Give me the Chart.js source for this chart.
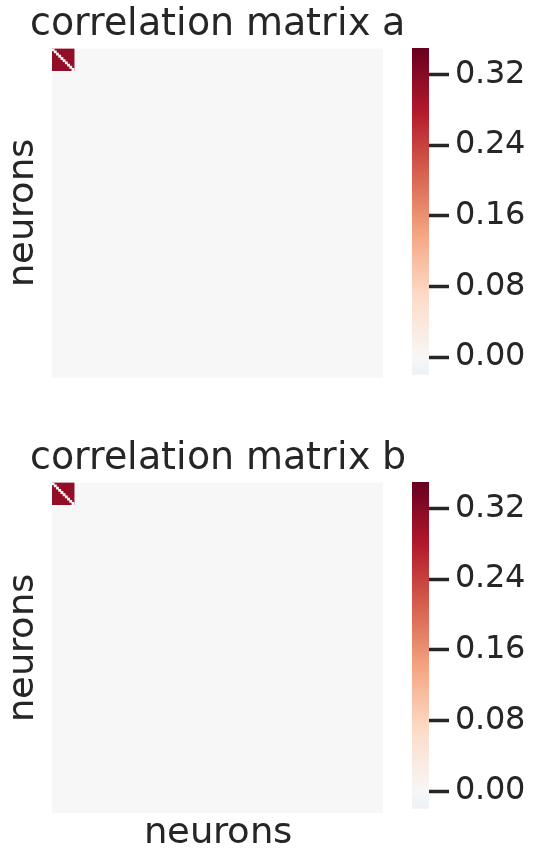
<!DOCTYPE html>
<html>
<head>
<meta charset="utf-8">
<script src="https://cdn.jsdelivr.net/npm/chart.js@4.4.1/dist/chart.umd.min.js"></script>
<style>
  @font-face { font-family: 'DejaVuBook'; src: local('DejaVu Sans'), local('DejaVuSans'); }
  html, body { margin: 0; padding: 0; background: #ffffff; }
  #page { position: relative; width: 548px; height: 856px; overflow: hidden; }
  canvas { position: absolute; }
</style>
</head>
<body>
<div id="page">
  <canvas id="heatA" width="548" height="380" style="left:0;top:0"></canvas>
  <canvas id="barA" width="148" height="400" style="left:400px;top:0"></canvas>
  <canvas id="heatB" width="548" height="422" style="left:0;top:434px"></canvas>
  <canvas id="barB" width="148" height="400" style="left:400px;top:434px"></canvas>
</div>
<script>
// ---- data ----
const neuronCount = 150;                       // neurons per matrix
const assemblyNeurons = [0, 10];               // first neurons forming a correlated group
const assemblyCorrelation = [0.31, 0.31];      // off-diagonal value inside the group (a, b)
const selfCorrelation = [0.0, 0.0];            // diagonal inside the group (a, b)
const backgroundCorrelation = [0.0, 0.0];      // everything else (a, b)
const colorbarRange = [-0.02, 0.35];
const colorbarTicks = [0.00, 0.08, 0.16, 0.24, 0.32];
const panelTitles = ['correlation matrix a', 'correlation matrix b'];
const axisLabel = 'neurons';

// ---- colour map (diverging red/blue, centred on zero) ----
const RDBU_R = ['#053061', '#2166ac', '#4393c3', '#92c5de', '#d1e5f0', '#f7f7f7',
                '#fddbc7', '#f4a582', '#d6604d', '#b2182b', '#67001f'];
const span = Math.max(Math.abs(colorbarRange[0]), Math.abs(colorbarRange[1]));
function hexToRgb(h) {
  return [parseInt(h.slice(1, 3), 16), parseInt(h.slice(3, 5), 16), parseInt(h.slice(5, 7), 16)];
}
function colorFor(v) {
  let t = 0.5 + v / (2 * span);
  t = Math.min(1, Math.max(0, t));
  const pos = t * (RDBU_R.length - 1);
  const i = Math.min(RDBU_R.length - 2, Math.floor(pos));
  const f = pos - i;
  const a = hexToRgb(RDBU_R[i]), b = hexToRgb(RDBU_R[i + 1]);
  const c = a.map((x, k) => Math.round(x + (b[k] - x) * f));
  return `rgb(${c[0]},${c[1]},${c[2]})`;
}

Chart.defaults.font.family = 'DejaVuBook, "DejaVu Sans", Verdana, sans-serif';
Chart.defaults.color = '#262626';
Chart.defaults.animation = false;

const rowLabels = Array.from({ length: neuronCount }, (_, i) => String(i + 1));
const inAssembly = i => i >= assemblyNeurons[0] && i < assemblyNeurons[1];

function heatmap(canvasId, p, withXLabel) {
  const cellStyle = { categoryPercentage: 1, barPercentage: 1, grouped: false, borderWidth: 0 };
  new Chart(document.getElementById(canvasId), {
    type: 'bar',
    data: {
      labels: rowLabels,
      datasets: [
        Object.assign({
          order: 3,
          data: rowLabels.map(() => [0, neuronCount]),
          backgroundColor: colorFor(backgroundCorrelation[p])
        }, cellStyle),
        Object.assign({
          order: 2,
          data: rowLabels.map((_, i) => inAssembly(i) ? [assemblyNeurons[0], assemblyNeurons[1]] : null),
          backgroundColor: colorFor(assemblyCorrelation[p])
        }, cellStyle),
        Object.assign({
          order: 1,
          data: rowLabels.map((_, i) => inAssembly(i) ? [i, i + 1] : null),
          backgroundColor: colorFor(selfCorrelation[p])
        }, cellStyle)
      ]
    },
    options: {
      indexAxis: 'y',
      responsive: false,
      // title spans 0..435 so it is centred over the matrix; an empty right axis keeps the matrix at 52..383
      layout: { padding: { left: 0, right: 113, top: 0, bottom: withXLabel ? 0 : 2 } },
      plugins: {
        legend: { display: false },
        tooltip: { enabled: false },
        title: {
          display: true,
          text: panelTitles[p],
          font: { size: 38, weight: 'normal' },
          color: '#262626',
          padding: { top: 2, bottom: 1 }
        }
      },
      scales: {
        y: {
          type: 'category',
          grid: { display: false },
          border: { display: false },
          ticks: { display: false },
          title: { display: true, text: axisLabel, font: { size: 37, lineHeight: 1 }, color: '#262626', padding: { top: 5, bottom: 0 } },
          afterFit: s => { s.width = 52; }
        },
        yRight: {
          type: 'category',
          axis: 'y',
          position: 'right',
          grid: { display: false },
          border: { display: false },
          ticks: { display: false },
          afterFit: s => { s.width = 52; }
        },
        x: {
          type: 'linear',
          min: 0,
          max: neuronCount,
          display: withXLabel,
          grid: { display: false },
          border: { display: false },
          ticks: { display: false },
          title: { display: withXLabel, text: axisLabel, font: { size: 37, lineHeight: 1 }, color: '#262626', padding: { top: 0, bottom: 4 } },
          afterFit: s => { if (withXLabel) s.height = 43; }
        }
      }
    }
  });
}

function colorbar(canvasId) {
  new Chart(document.getElementById(canvasId), {
    type: 'bar',
    data: {
      labels: ['scale'],
      datasets: [{
        data: [colorbarRange],
        categoryPercentage: 1,
        barPercentage: 1,
        borderWidth: 0,
        backgroundColor: ctx => {
          const chart = ctx.chart;
          const y = chart.scales.y;
          if (!chart.chartArea || !y) return colorFor(0);
          const y0 = y.getPixelForValue(colorbarRange[0]);
          const y1 = y.getPixelForValue(colorbarRange[1]);
          const g = chart.ctx.createLinearGradient(0, y0, 0, y1);
          const steps = 40;
          for (let k = 0; k <= steps; k++) {
            const v = colorbarRange[0] + (colorbarRange[1] - colorbarRange[0]) * k / steps;
            g.addColorStop(k / steps, colorFor(v));
          }
          return g;
        }
      }]
    },
    options: {
      responsive: false,
      layout: { padding: { left: 12, right: 0, top: 48, bottom: 22 } },
      plugins: { legend: { display: false }, tooltip: { enabled: false } },
      scales: {
        x: { display: false },
        y: {
          position: 'right',
          min: colorbarRange[0],
          max: colorbarRange[1],
          afterBuildTicks: s => { s.ticks = colorbarTicks.map(v => ({ value: v })); },
          ticks: {
            callback: v => Number(v).toFixed(2),
            font: { size: 32 },
            color: '#262626',
            padding: 6
          },
          grid: { display: true, drawOnChartArea: false, drawTicks: true, tickLength: 20, tickWidth: 3.5, tickColor: '#262626' },
          border: { display: false },
          afterFit: s => { s.width = 119; }
        }
      }
    }
  });
}

function drawAll() {
  heatmap('heatA', 0, false);
  colorbar('barA');
  heatmap('heatB', 1, true);
  colorbar('barB');
}

Promise.all([
  document.fonts.load('38px DejaVuBook'),
  document.fonts.load('32px DejaVuBook')
]).then(drawAll, drawAll);
</script>
</body>
</html>
